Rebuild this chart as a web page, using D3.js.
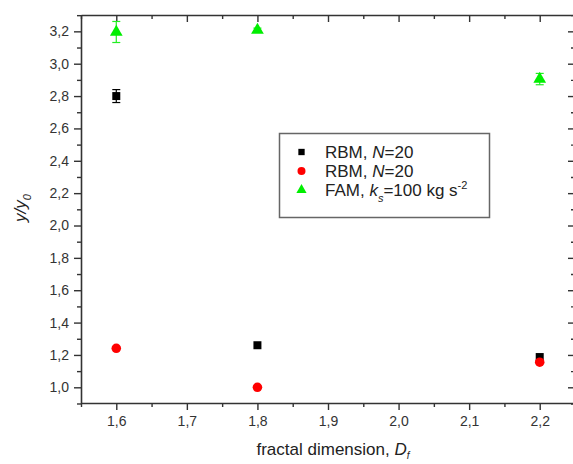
<!DOCTYPE html>
<html><head><meta charset="utf-8">
<script src="https://cdn.jsdelivr.net/npm/d3@7"></script>
<style>
html,body{margin:0;padding:0;background:#fff;}
svg{display:block;font-family:"Liberation Sans",Arial,sans-serif;}
</style></head>
<body>
<svg id="c" width="573" height="464"></svg>
<script>
// ---- data ----
const xValues = [1.6, 1.8, 2.2];
const rbmSquare = [2.80, 1.26, 1.187];
const rbmSquareErr = [0.04, 0.0, 0.0];
const rbmCircle = [1.241, 1.00, 1.155];
const famTriangle = [3.196, 3.208, 2.905];
const famTriangleErr = [0.065, 0.012, 0.035];
const xTicks = [1.6, 1.7, 1.8, 1.9, 2.0, 2.1, 2.2];
const yTicks = [1.0, 1.2, 1.4, 1.6, 1.8, 2.0, 2.2, 2.4, 2.6, 2.8, 3.0, 3.2];

const svg = d3.select("#c");
const x = d3.scaleLinear().domain([1.55, 2.25]).range([81, 575]);
const y = d3.scaleLinear().domain([0.903, 3.301]).range([403, 15]);
const fmt = d => d3.format(".1f")(d).replace(".", ",");
const axisColor = "#333";

const xMinor = d3.range(1.55, 2.2501, 0.05).filter(v => !xTicks.some(t => Math.abs(t - v) < 1e-6));
const yMinor = d3.range(0.9, 3.301, 0.1).filter(v => !yTicks.some(t => Math.abs(t - v) < 1e-6));

function styleAxis(g) {
  g.selectAll("path.domain").attr("stroke", axisColor).attr("stroke-width", 1.6);
  g.selectAll(".tick line").attr("stroke", axisColor).attr("stroke-width", 1.4);
  g.selectAll(".tick text").attr("fill", "#333").style("font-size", "14px");
}

// bottom
const gb = svg.append("g").attr("transform", "translate(0,403)");
gb.call(d3.axisBottom(x).tickValues(xTicks).tickFormat(fmt).tickSize(7).tickPadding(6).tickSizeOuter(0));
gb.append("g").call(d3.axisBottom(x).tickValues(xMinor).tickFormat("").tickSize(4).tickSizeOuter(0)).select(".domain").remove();
styleAxis(gb);
// top
const gt = svg.append("g").attr("transform", "translate(0,15)");
gt.call(d3.axisBottom(x).tickValues(xTicks).tickFormat("").tickSize(7).tickSizeOuter(0));
gt.append("g").call(d3.axisBottom(x).tickValues(xMinor).tickFormat("").tickSize(4).tickSizeOuter(0)).select(".domain").remove();
styleAxis(gt);
// left
const gl = svg.append("g").attr("transform", "translate(81,0)");
gl.call(d3.axisLeft(y).tickValues(yTicks).tickFormat(fmt).tickSize(7).tickPadding(5).tickSizeOuter(0));
gl.append("g").call(d3.axisLeft(y).tickValues(yMinor).tickFormat("").tickSize(4).tickSizeOuter(0)).select(".domain").remove();
styleAxis(gl);
// right
const gr = svg.append("g").attr("transform", "translate(575,0)");
gr.call(d3.axisLeft(y).tickValues(yTicks).tickFormat("").tickSize(7).tickSizeOuter(0));
gr.append("g").call(d3.axisLeft(y).tickValues(yMinor).tickFormat("").tickSize(4).tickSizeOuter(0)).select(".domain").remove();
styleAxis(gr);

// error bars
function errorBars(vals, errs, color) {
  const g = svg.append("g").attr("stroke", color).attr("stroke-width", 1.2);
  vals.forEach((v, i) => {
    if (!errs[i]) return;
    const cx = x(xValues[i]);
    g.append("line").attr("x1", cx).attr("x2", cx).attr("y1", y(v + errs[i])).attr("y2", y(v - errs[i]));
    [v + errs[i], v - errs[i]].forEach(e => g.append("line").attr("x1", cx - 4).attr("x2", cx + 4).attr("y1", y(e)).attr("y2", y(e)));
  });
}
errorBars(rbmSquare, rbmSquareErr, "#000");
errorBars(famTriangle, famTriangleErr, "#22ee22");

const sq = d3.symbol().type(d3.symbolSquare).size(64);
const ci = d3.symbol().type(d3.symbolCircle).size(72);
const tr = d3.symbol().type(d3.symbolTriangle).size(70);

svg.append("g").selectAll("path").data(rbmSquare).join("path")
  .attr("d", sq).attr("fill", "#000")
  .attr("transform", (d, i) => `translate(${x(xValues[i])},${y(d)})`);
svg.append("g").selectAll("path").data(rbmCircle).join("path")
  .attr("d", ci).attr("fill", "#ff0000")
  .attr("transform", (d, i) => `translate(${x(xValues[i])},${y(d)})`);
svg.append("g").selectAll("path").data(famTriangle).join("path")
  .attr("d", tr).attr("fill", "#00ee00")
  .attr("transform", (d, i) => `translate(${x(xValues[i])},${y(d)})`);

// legend
const lg = svg.append("g");
lg.append("rect").attr("x", 279.5).attr("y", 133.5).attr("width", 210).attr("height", 84)
  .attr("fill", "#fff").attr("stroke", "#666").attr("stroke-width", 1.5);
const ly = [152, 171, 190];
lg.append("path").attr("d", d3.symbol().type(d3.symbolSquare).size(40)).attr("fill", "#000").attr("transform", `translate(301.5,${ly[0]})`);
lg.append("path").attr("d", d3.symbol().type(d3.symbolCircle).size(50)).attr("fill", "#ff0000").attr("transform", `translate(301.5,${ly[1]})`);
lg.append("path").attr("d", d3.symbol().type(d3.symbolTriangle).size(45)).attr("fill", "#00ee00").attr("transform", `translate(301.5,${ly[2]})`);
const ts = "17px";
function legText(yy) {
  return lg.append("text").attr("x", 325).attr("y", yy + 6).attr("fill", "#222").style("font-size", ts);
}
let t = legText(ly[0]); t.append("tspan").text("RBM, "); t.append("tspan").attr("font-style", "italic").text("N"); t.append("tspan").text("=20");
t = legText(ly[1]); t.append("tspan").text("RBM, "); t.append("tspan").attr("font-style", "italic").text("N"); t.append("tspan").text("=20");
t = legText(ly[2]); t.append("tspan").text("FAM, "); t.append("tspan").attr("font-style", "italic").text("k");
t.append("tspan").attr("font-style", "italic").attr("dy", 6).style("font-size", "11px").text("s");
t.append("tspan").attr("dy", -6).text("=100 kg s");
t.append("tspan").attr("dy", -7).style("font-size", "11px").text("-2");

// axis titles
const xt = svg.append("text").attr("x", 333).attr("y", 455).attr("text-anchor", "middle").attr("fill", "#222").style("font-size", "17px");
xt.append("tspan").text("fractal dimension, ");
xt.append("tspan").attr("font-style", "italic").text("D");
xt.append("tspan").attr("font-style", "italic").attr("dy", 4).style("font-size", "10px").text("f");

const yt = svg.append("text").attr("transform", "translate(26,208) rotate(-90)").attr("text-anchor", "middle").attr("fill", "#222").style("font-size", "17px");
yt.append("tspan").attr("font-style", "italic").text("y/y");
yt.append("tspan").attr("font-style", "italic").attr("dy", 5).style("font-size", "11px").text("0");
</script>
</body></html>
